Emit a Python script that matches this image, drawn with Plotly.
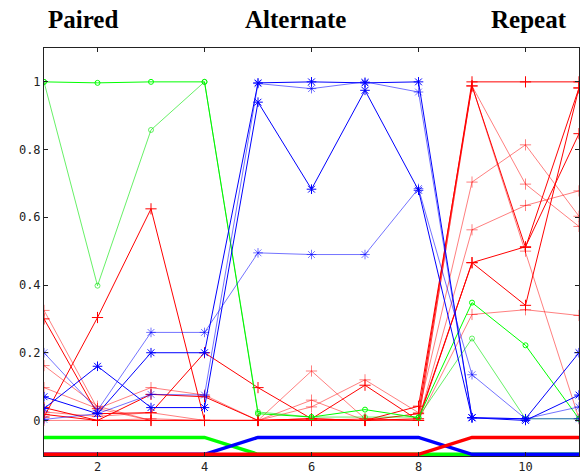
import plotly.graph_objects as go

x_vals = [1, 2, 3, 4, 5, 6, 7, 8, 9, 10, 11]

green_a = [1.0, 0.997, 1.0, 1.0, 0.02, 0.01, 0.032, 0.008, 0.348, 0.222, 0.005]
green_b = [1.0, 0.398, 0.858, 1.0, 0.025, 0.01, 0.01, 0.01, 0.242, 0.005, 0.005]

blue_1 = [0.2, 0.03, 0.26, 0.26, 0.495, 0.49, 0.49, 0.685, 0.135, 0.005, 0.04]
blue_2 = [0.035, 0.16, 0.038, 0.038, 0.94, 0.683, 0.975, 0.68, 0.008, 0.005, 0.2]
blue_3 = [0.07, 0.02, 0.2, 0.2, 0.997, 1.0, 0.997, 1.0, 0.008, 0.0, 0.075]
blue_4 = [0.003, 0.02, 0.077, 0.075, 0.995, 0.98, 1.0, 0.97, 0.008, 0.005, 0.005]

red_1 = [0.01, 0.304, 0.625, 0.0, 0.0, 0.005, 0.0, 0.02, 1.0, 1.0, 1.0]
red_2 = [0.325, 0.035, 0.0, 0.0, 0.0, 0.146, 0.005, 0.0, 0.988, 0.698, 0.573]
red_3 = [0.30, 0.02, 0.023, 0.2, 0.097, 0.005, 0.0, 0.042, 0.988, 0.511, 0.982]
red_4 = [0.162, 0.042, 0.0, 0.0, 0.0, 0.04, 0.12, 0.023, 0.704, 0.814, 0.603]
red_5 = [0.097, 0.035, 0.097, 0.075, 0.0, 0.06, 0.0, 0.0, 0.563, 0.635, 0.678]
red_6 = [0.038, 0.0, 0.077, 0.07, 0.0, 0.005, 0.104, 0.0, 0.466, 0.34, 0.982]
red_7 = [0.025, 0.012, 0.023, 0.0, 0.0, 0.0, 0.005, 0.0, 0.313, 0.327, 0.31]
red_8 = [0.018, 0.0, 0.0, 0.0, 0.0, 0.0, 0.0, 0.005, 0.466, 0.513, 0.847]
red_9 = [0.0, 0.0, 0.005, 0.0, 0.0, 0.0, 0.0, 0.0, 0.988, 0.5, 0.005]

ind_green = [-0.05, -0.05, -0.05, -0.05, -0.1, -0.1, -0.1, -0.1, -0.1, -0.1, -0.1]
ind_blue = [-0.1, -0.1, -0.1, -0.1, -0.05, -0.05, -0.05, -0.05, -0.1, -0.1, -0.1]
ind_red = [-0.1, -0.1, -0.1, -0.1, -0.1, -0.1, -0.1, -0.1, -0.05, -0.05, -0.05]

section_labels = ["Paired", "Alternate", "Repeat"]
section_x = [1.72, 5.70, 10.07]

RED = "#ff0000"
RED_L = "rgba(255,0,0,0.5)"
BLUE = "#0000ff"
BLUE_L = "rgba(0,0,255,0.55)"
GREEN = "#00ff00"
GREEN_L = "rgba(0,230,0,0.6)"

fig = go.Figure()


def add(y, color, symbol, size):
    fig.add_trace(go.Scatter(
        x=x_vals, y=y, mode="lines+markers",
        line=dict(color=color, width=1),
        marker=dict(symbol=symbol, size=size, color=color,
                    line=dict(color=color, width=1)),
        hoverinfo="skip", showlegend=False))


for y, c in [(red_1, RED), (red_2, RED_L), (red_3, RED), (red_4, RED_L),
             (red_5, RED_L), (red_6, RED), (red_7, RED_L), (red_8, RED),
             (red_9, RED_L)]:
    add(y, c, "cross-thin-open", 8)

for y, c in [(green_a, GREEN), (green_b, GREEN_L)]:
    add(y, c, "circle-open", 5)

for y, c in [(blue_1, BLUE_L), (blue_2, BLUE), (blue_3, BLUE), (blue_4, BLUE_L)]:
    add(y, c, "asterisk-open", 8)

for y, c in [(ind_green, GREEN), (ind_blue, BLUE), (ind_red, RED)]:
    fig.add_trace(go.Scatter(x=x_vals, y=y, mode="lines",
                             line=dict(color=c, width=3.5),
                             hoverinfo="skip", showlegend=False))

for lab, xp in zip(section_labels, section_x):
    fig.add_annotation(x=xp, xref="x", y=1.0705, yref="paper", text=lab,
                       showarrow=False, xanchor="center", yanchor="middle",
                       font=dict(family="Liberation Serif", size=25,
                                 color="black", weight="bold"))

axis_common = dict(showgrid=False, zeroline=False, showline=True,
                   linecolor="#222222", linewidth=1, mirror="allticks",
                   ticks="inside", ticklen=4, tickcolor="#222222",
                   automargin=False,
                   tickfont=dict(family="DejaVu Sans Mono", size=12,
                                 color="#222222"))

fig.update_xaxes(range=[1, 11], tickvals=[2, 4, 6, 8, 10], **axis_common)
fig.update_yaxes(range=[-0.105, 1.1], tickvals=[0, 0.2, 0.4, 0.6, 0.8, 1],
                 ticktext=["0", "0.2", "0.4", "0.6", "0.8", "1"], **axis_common)

fig.update_layout(width=586, height=475,
                  margin=dict(l=44, r=7, t=48, b=19),
                  plot_bgcolor="white", paper_bgcolor="white")

fig.write_html(
    "out.html",
    config={"displayModeBar": False},
    post_script="document.body.style.margin='0';document.body.style.padding='0';",
)
